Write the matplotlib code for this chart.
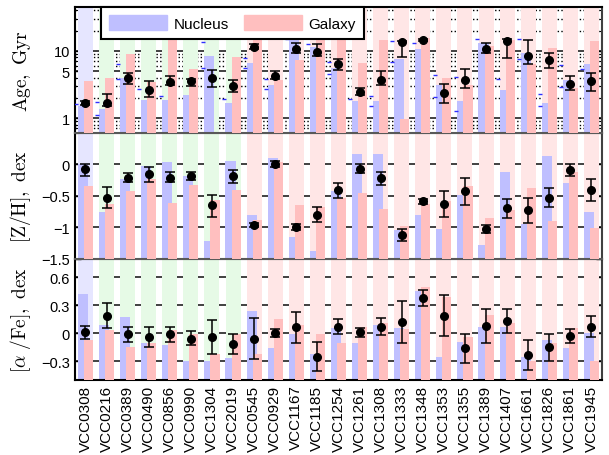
import numpy as np
import matplotlib.pyplot as plt
from matplotlib.ticker import NullFormatter
from matplotlib.patches import Patch

plt.rcParams['font.family'] = ['Liberation Sans', 'DejaVu Sans']
plt.rcParams['mathtext.fontset'] = 'cm'

names = ['VCC0308', 'VCC0216', 'VCC0389', 'VCC0490', 'VCC0856', 'VCC0990', 'VCC1304',
         'VCC2019', 'VCC0545', 'VCC0929', 'VCC1167', 'VCC1185', 'VCC1254', 'VCC1261',
         'VCC1308', 'VCC1333', 'VCC1348', 'VCC1353', 'VCC1355', 'VCC1389', 'VCC1407',
         'VCC1661', 'VCC1826', 'VCC1861', 'VCC1945']
# stripe class: 0 blue, 1 green, 2 red
stripe_kind = [0] + [1] * 7 + [2] * 17

# Age, Gyr
age_nuc = [1.49, 1.37, 4.0, 1.87, 1.87, 2.22, 8.4, 1.67, 6.7, 3.1, 14.9, 11.6, 5.53, 1.77,
           1.77, 7.5, 10.7, 3.1, 1.77, 13.3, 2.57, 9.25, 1.67, 3.7, 6.4]
age_gal = [3.5, 4.0, 9.0, 3.43, 14.6, 5.35, 0.5, 8.06, 15.1, 3.7, 7.35, 14.6, 14.6, 6.57,
           14.6, 0.98, 15.4, 3.93, 3.1, 12.0, 14.6, 6.4, 11.0, 2.79, 14.1]
age_pt = [1.67, 1.67, 3.93, 2.63, 3.43, 3.5, 4.0, 2.95, 11.6, 4.25, 10.6, 9.77, 6.4, 2.43,
          3.7, 13.5, 14.6, 2.35, 3.7, 10.7, 14.1, 8.5, 7.35, 3.2, 3.58]
age_hi = [1.8, 2.27, 4.66, 3.5, 4.26, 3.8, 5.1, 3.7, 12.6, 5.05, 13.0, 12.6, 7.6, 2.79,
          4.93, 14.1, 15.0, 3.2, 5.35, 13.0, 14.9, 14.6, 9.25, 4.15, 4.66]
age_lo = [1.54, 1.52, 3.2, 2.05, 3.05, 2.95, 2.9, 2.43, 10.6, 3.8, 9.2, 8.4, 5.2, 2.17,
          3.12, 8.06, 14.2, 1.67, 2.79, 9.2, 7.9, 6.35, 5.53, 2.63, 2.55]
age_nuc_hi = [np.nan, 1.71, 6.3, 2.69, 2.14, np.nan, 13.5, 1.91, 7.9, 3.78, 15.2, 12.8, 6.9,
              1.91, 2.14, 13.9, 13.2, 4.33, 4.09, 15.2, 3.87, 15.2, 2.27, 6.1, 5.3]
age_nuc_lo = [1.61, 1.11, 3.78, np.nan, np.nan, np.nan, 5.6, np.nan, 5.6, 2.75, np.nan,
              np.nan, 4.48, np.nan, 1.52, 6.9, np.nan, 2.03, 1.28, np.nan, np.nan, 7.65,
              1.52, 2.85, np.nan]

# [Z/H], dex
zh_nuc = [0.0, -0.76, -0.24, -0.02, 0.04, -0.18, -1.21, 0.06, -0.8, 0.1, -1.16, -1.38,
          -0.42, 0.17, 0.16, -1.05, -0.81, -1.03, -0.48, -1.28, -0.12, -0.95, 0.13, -0.3,
          -0.75]
zh_gal = [-0.35, -0.63, -0.42, -0.24, -0.62, -0.32, -0.57, -0.41, -0.88, 0.04, -0.65,
          -0.68, -0.53, -0.46, -0.71, -0.98, -0.63, -0.58, -0.34, -0.85, -0.72, -0.37,
          -0.9, -0.12, -1.01]
zh_pt = [-0.08, -0.53, -0.21, -0.16, -0.21, -0.18, -0.65, -0.18, -0.97, 0.01, -1.0, -0.8,
         -0.41, -0.07, -0.21, -1.12, -0.58, -0.63, -0.43, -1.02, -0.7, -0.73, -0.53, -0.09,
         -0.41]
zh_hi = [0.01, -0.36, -0.14, -0.04, -0.12, -0.12, -0.48, -0.09, -0.93, 0.05, -0.95, -0.68,
         -0.29, 0.0, -0.12, -1.03, -0.55, -0.43, -0.21, -0.96, -0.55, -0.53, -0.38, 0.01,
         -0.24]
zh_lo = [-0.18, -0.7, -0.28, -0.28, -0.28, -0.25, -0.83, -0.29, -1.0, -0.04, -1.05, -0.92,
         -0.54, -0.14, -0.32, -1.22, -0.63, -0.83, -0.65, -1.09, -0.85, -0.93, -0.68, -0.18,
         -0.58]

# [alpha/Fe], dex
af_nuc = [0.42, 0.09, 0.18, -0.1, -0.13, -0.3, -0.3, -0.27, 0.24, -0.16, -0.01, -0.22,
          0.06, -0.1, 0.09, 0.06, 0.45, -0.26, -0.09, 0.07, 0.07, -0.26, -0.07, -0.16, 0.0]
af_gal = [-0.07, 0.04, -0.15, -0.1, 0.04, -0.01, -0.22, -0.01, -0.22, 0.15, 0.09, -0.01,
          -0.1, 0.07, 0.11, 0.05, 0.5, 0.39, -0.04, 0.2, 0.11, -0.3, -0.1, 0.06, -0.3]
af_pt = [0.01, 0.19, -0.01, -0.04, -0.01, -0.06, -0.04, -0.12, -0.06, 0.0, 0.07, -0.25,
         0.07, 0.01, 0.07, 0.12, 0.38, 0.19, -0.16, 0.08, 0.13, -0.23, -0.15, -0.03, 0.07]
af_hi = [0.08, 0.32, 0.07, 0.07, 0.07, 0.02, 0.14, -0.01, 0.16, 0.05, 0.23, -0.09, 0.15,
         0.06, 0.16, 0.35, 0.47, 0.41, -0.01, 0.26, 0.26, -0.07, -0.01, 0.05, 0.19]
af_lo = [-0.06, 0.06, -0.09, -0.15, -0.09, -0.13, -0.22, -0.22, -0.28, -0.04, -0.1, -0.41,
         -0.01, -0.04, -0.02, -0.11, 0.29, -0.03, -0.32, -0.1, 0.0, -0.39, -0.3, -0.11,
         -0.04]

x = np.arange(1, len(names) + 1)
stripe_colors = ['#e6e6ff', '#e6fae6', '#ffe6e6']
nuc_color = '#bfbfff'
gal_color = '#ffbfbf'

fig = plt.figure(figsize=(6.09, 4.56), dpi=100)
gs = fig.add_gridspec(3, 1, height_ratios=[126, 126, 121], hspace=0,
                      left=0.123, right=0.9885, top=0.9825, bottom=0.165)
axes = [fig.add_subplot(gs[i]) for i in range(3)]

panels = [
    (age_nuc, age_gal, age_pt, age_lo, age_hi, (0.6, 45), r'$\mathrm{Age,\ Gyr}$'),
    (zh_nuc, zh_gal, zh_pt, zh_lo, zh_hi, (-1.5, 0.5), r'$[\mathrm{Z/H}],\ \mathrm{dex}$'),
    (af_nuc, af_gal, af_pt, af_lo, af_hi, (-0.5, 0.8), r'$[\alpha\ /\mathrm{Fe}],\ \mathrm{dex}$'),
]

for k, (ax, (nuc, gal, pt, lo, hi, ylim, lab)) in enumerate(zip(axes, panels)):
    nuc = np.array(nuc); gal = np.array(gal); pt = np.array(pt)
    lo = np.array(lo); hi = np.array(hi)
    if k == 0:
        ax.set_yscale('log')
    y0 = ylim[0]
    # background stripes
    for xi, s in zip(x, stripe_kind):
        ax.axvspan(xi - 0.357, xi + 0.357, color=stripe_colors[s], lw=0, zorder=1)
    ax.bar(x - 0.36, nuc - y0, width=0.48, bottom=y0, align='edge',
           color=nuc_color, lw=0, zorder=2)
    ax.bar(x - 0.07, gal - y0, width=0.43, bottom=y0, align='edge',
           color=gal_color, lw=0, zorder=3)
    ax.errorbar(x, pt, yerr=[pt - lo, hi - pt], fmt='o', color='k', ms=5.5,
                capsize=3.5, elinewidth=1.1, capthick=1.1, zorder=5)
    if k == 0:
        ax.plot(x - 0.44, age_nuc_hi, '_', color='#3030ff', ms=3, mew=1, zorder=4)
        ax.plot(x - 0.44, age_nuc_lo, '_', color='#3030ff', ms=3, mew=1, zorder=4)
        ax.set_yticks([1, 5, 10])
        ax.set_yticklabels(['1', '5', '10'])
        ax.yaxis.set_minor_formatter(NullFormatter())
        ax.grid(True, which='minor', axis='y', ls=':', lw=1, color='k', zorder=0)
    elif k == 1:
        ax.set_yticks([-1.5, -1, -0.5, 0])
        ax.set_yticklabels(['\u22121.5', '\u22121', '\u22120.5', '0'])
    else:
        ax.set_yticks([-0.3, 0, 0.3, 0.6])
        ax.set_yticklabels(['\u22120.3', '0', '0.3', '0.6'])
    ax.grid(True, which='major', axis='y', ls='-', lw=1.3, color='0.2', zorder=0)
    ax.set_axisbelow(True)
    ax.set_ylim(*ylim)
    ax.set_xlim(0.5, len(names) + 0.5)
    ax.set_xticks(x)
    ax.tick_params(which='both', direction='in', left=True, right=True, top=False,
                   bottom=True, labelsize=10.5)
    ax.tick_params(which='major', length=4, width=1)
    ax.tick_params(which='minor', length=2, width=0.8)
    ax.tick_params(axis='x', length=0)
    if k < 2:
        ax.set_xticklabels([])
    else:
        ax.set_xticklabels(names, rotation=90, fontsize=11)
    ax.set_ylabel(lab, fontsize=14)
    ax.yaxis.set_label_coords(-0.08, 0.5)
    for side in ['left', 'right', 'top', 'bottom']:
        ax.spines[side].set_linewidth(1.5)
    ax.spines['left'].set_color('k')
    ax.spines['right'].set_color('0.25')
    ax.spines['top'].set_color('0.35' if k > 0 else 'k')
    ax.spines['bottom'].set_color('0.35' if k < 2 else 'k')
    ax.set_zorder(3 - k)

handles = [Patch(color=nuc_color, label='Nucleus'), Patch(color=gal_color, label='Galaxy')]
leg = axes[0].legend(handles=handles, loc='upper left', bbox_to_anchor=(0.049, 1.0),
                     borderaxespad=0, ncol=2, fontsize=11, handlelength=3.8,
                     handleheight=1.1, handletextpad=0.4, columnspacing=1.0,
                     fancybox=False, framealpha=1, edgecolor='k', borderpad=0.55)
leg.get_frame().set_linewidth(1.5)
leg.set_zorder(10)

fig.savefig('out.png', dpi=100)
